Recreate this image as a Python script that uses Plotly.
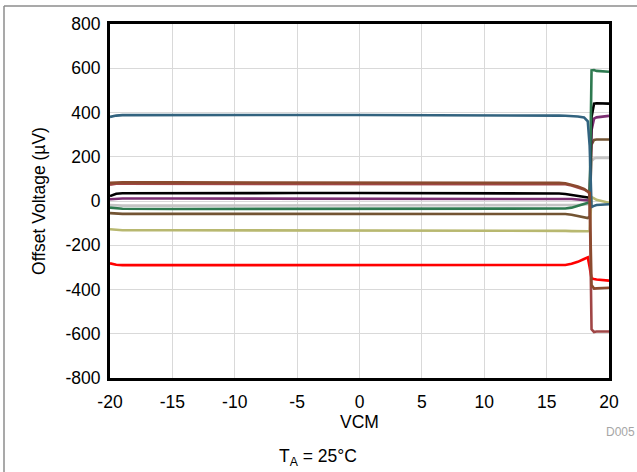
import plotly.graph_objects as go

# ---------------- data ----------------
vcm = [-20, -19.5, -19, -15, -10, -5, 0, 5, 10, 15, 16, 16.5, 17, 17.5, 18, 18.3, 18.45, 18.6, 18.8, 19, 20]

blue   = [380, 386, 388, 389, 389, 389, 389, 389, 388, 387, 386, 385, 384, 382, 378, 360, 250, -27, -22, -18, -15]
green  = [-30, -34, -35, -36, -36, -36, -36, -36, -36, -36, -36, -34, -30, -22, -14, -10, -6, 590, 592, 588, 584]
black  = [22, 33, 35, 36, 36, 36, 36, 36, 36, 35, 34, 32, 28, 24, 19, 16, 15, 380, 440, 442, 440]
purple = [8, 10, 11, 11, 11, 11, 11, 11, 11, 11, 11, 10, 9, 7, 5, 3, 2, 320, 372, 378, 385]
brown  = [-55, -58, -58, -58, -58, -58, -58, -58, -58, -58, -58, -59, -62, -68, -74, -77, -70, 255, 276, 278, 278]
gray   = [-18, -20, -21, -21, -21, -21, -21, -21, -21, -21, -21, -21, -20, -18, -16, -15, -14, 180, 192, 195, 195]
olive  = [-128, -131, -132, -132, -132, -132, -132, -132, -132, -133, -134, -135, -136, -137, -138, -137, -135, 18, 12, 5, -8]
red    = [-282, -288, -290, -290, -290, -290, -290, -290, -290, -290, -290, -289, -284, -275, -262, -255, -300, -350, -353, -355, -360]
sienna = [82, 84, 84, 84, 84, 84, 84, 84, 84, 83, 82, 80, 74, 66, 55, 46, 38, -380, -396, -395, -392]
maroon = [74, 78, 78, 78, 78, 78, 78, 78, 78, 78, 77, 76, 70, 62, 52, 42, 34, -580, -592, -590, -590]

series = [
    ("gray", gray, "#C4C4C4"),
    ("olive", olive, "#B8B870"),
    ("red", red, "#FF0000"),
    ("brown", brown, "#735433"),
    ("purple", purple, "#7B2E72"),
    ("black", black, "#000000"),
    ("green", green, "#2E7A50"),
    ("blue", blue, "#32637F"),
    ("maroon", maroon, "#A04646"),
    ("sienna", sienna, "#8B4A2E"),
]

x_ticks = [-20, -15, -10, -5, 0, 5, 10, 15, 20]
x_ticklabels = ["-20", "-15", "-10", "-5", "0", "5", "10", "15", "20"]
y_ticks = [-800, -600, -400, -200, 0, 200, 400, 600, 800]
y_ticklabels = ["-800", "-600", "-400", "-200", "0", "200", "400", "600", "800"]

# ---------------- figure ----------------
W, H = 637, 472
L, R, T, B = 110, 28, 24, 94

fig = go.Figure()
for name, ys, col in series:
    fig.add_trace(go.Scatter(x=vcm, y=ys, mode="lines", name=name,
                             line=dict(color=col, width=2.6), showlegend=False,
                             hoverinfo="skip"))

FAM = "Liberation Sans, Arial, sans-serif"
font = dict(family=FAM, size=17.5, color="#000000")

fig.update_layout(
    width=W, height=H,
    margin=dict(l=L, r=R, t=T, b=B),
    paper_bgcolor="white", plot_bgcolor="white",
    font=font,
    xaxis=dict(range=[-20, 20], tickvals=x_ticks, ticktext=x_ticklabels,
               showgrid=True, gridcolor="#D9D9D9", gridwidth=1,
               zeroline=False, showline=True, linecolor="black", linewidth=3,
               mirror=True, ticks="", ticklabelstandoff=6, tickfont=font,
               title=dict(text="VCM", standoff=0, font=font)),
    yaxis=dict(range=[-800, 800], tickvals=y_ticks, ticktext=y_ticklabels,
               showgrid=True, gridcolor="#D9D9D9", gridwidth=1,
               zeroline=False, showline=True, linecolor="black", linewidth=3,
               mirror=True, ticks="", ticklabelstandoff=3, tickfont=font,
               title=dict(text="Offset Voltage (µV)", standoff=16, font=font)),
)

pw = W - L - R
ph = H - T - B
def px(xp):
    return (xp - L) / pw
def py(yp):
    return 1 - (yp - T) / ph

# outer frame (gray lines top and left)
fig.add_shape(type="line", xref="paper", yref="paper",
              x0=px(4), x1=px(W + 2), y0=py(6), y1=py(6),
              line=dict(color="#8C8C8C", width=1.5))
fig.add_shape(type="line", xref="paper", yref="paper",
              x0=px(4), x1=px(4), y0=py(6), y1=py(H + 2),
              line=dict(color="#8C8C8C", width=1.5))

fig.add_annotation(text="D005", xref="paper", yref="paper",
                   x=px(637), y=py(432), xanchor="right", yanchor="middle",
                   showarrow=False,
                   font=dict(family=FAM, size=12, color="#A6A6A6"))
fig.add_annotation(text="T<sub>A</sub> = 25°C", xref="paper", yref="paper",
                   x=px(318), y=py(458), xanchor="center", yanchor="middle",
                   showarrow=False, font=font)

fig.write_html("out.html", config={"displayModeBar": False},
               post_script="document.body.style.margin='0';document.body.style.overflow='hidden';")
